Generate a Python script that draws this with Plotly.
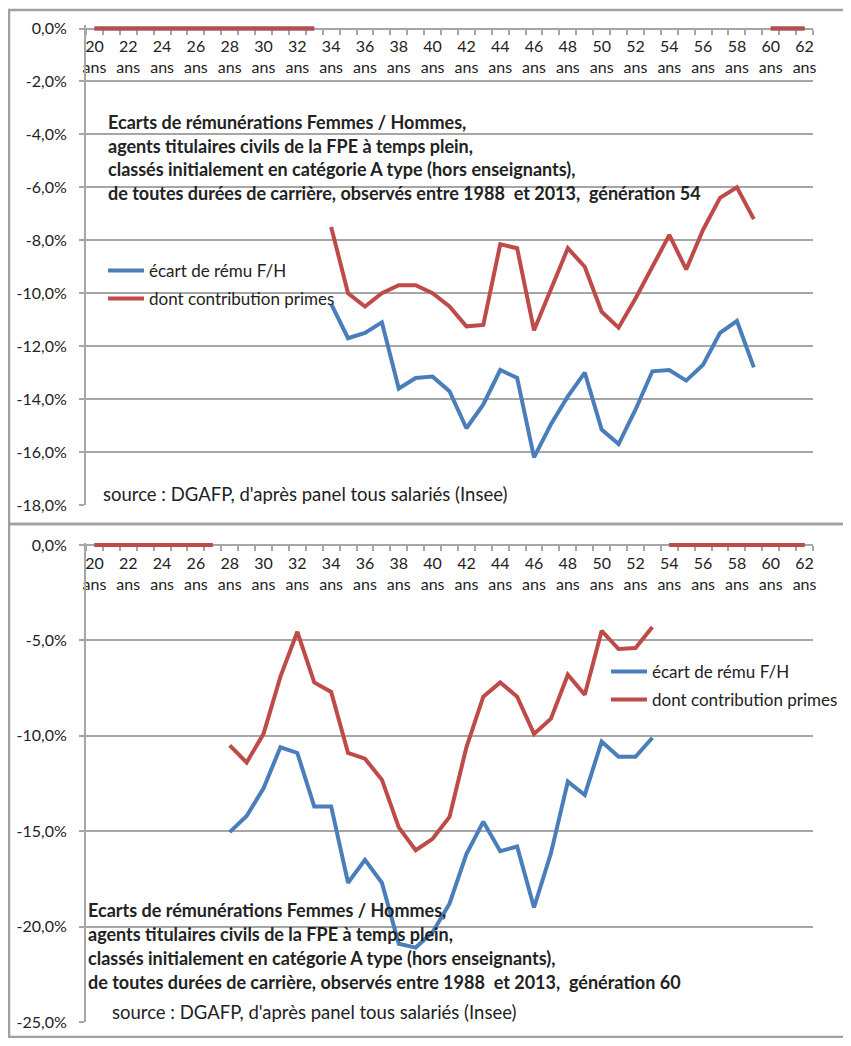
import plotly.graph_objects as go

# the page body keeps its default 8px margin, so the figure is sized to fit the window
OFF = 8
W, H = 851 - 2 * OFF, 1046 - 2 * OFF

BLUE = "#4a7ebb"
RED = "#be4b48"
GRID = "#a6a6a6"
TXT = "#222222"
FONT = "Lato"

# x categories
AGE_TICKS = list(range(20, 63, 2))
AGE_LABELS = [f"{a}<br>ans" for a in AGE_TICKS]

# génération 54
AGES_54 = list(range(34, 60))
ECART_54 = [-10.4, -11.7, -11.5, -11.1, -13.6, -13.2, -13.15, -13.7, -15.1, -14.2,
            -12.9, -13.2, -16.2, -14.95, -13.9, -13.0, -15.15, -15.7, -14.4, -12.95,
            -12.9, -13.3, -12.7, -11.5, -11.05, -12.8]
PRIMES_54 = [-7.5, -10.0, -10.5, -10.0, -9.7, -9.7, -10.0, -10.5, -11.25, -11.2,
             -8.15, -8.3, -11.4, -9.85, -8.3, -9.0, -10.7, -11.3, -10.2, -9.0,
             -7.8, -9.1, -7.6, -6.4, -6.0, -7.2]
ZERO_54_LEFT = list(range(20, 34))
ZERO_54_RIGHT = list(range(60, 63))
YTICKS_54 = [0, -2, -4, -6, -8, -10, -12, -14, -16, -18]
YLABELS_54 = ["0,0%", "-2,0%", "-4,0%", "-6,0%", "-8,0%", "-10,0%", "-12,0%",
              "-14,0%", "-16,0%", "-18,0%"]

# génération 60
AGES_60 = list(range(28, 54))
ECART_60 = [-15.05, -14.2, -12.75, -10.6, -10.9, -13.7, -13.7, -17.7, -16.5, -17.7,
            -20.9, -21.1, -20.3, -18.8, -16.2, -14.5, -16.05, -15.8, -19.0, -16.15,
            -12.4, -13.1, -10.3, -11.1, -11.1, -10.1]
PRIMES_60 = [-10.5, -11.4, -9.9, -6.9, -4.55, -7.2, -7.7, -10.9, -11.2, -12.3,
             -14.8, -16.0, -15.4, -14.25, -10.6, -7.95, -7.2, -7.95, -9.9, -9.1,
             -6.8, -7.85, -4.5, -5.45, -5.4, -4.3]
ZERO_60_LEFT = list(range(20, 28))
ZERO_60_RIGHT = list(range(54, 63))
YTICKS_60 = [0, -5, -10, -15, -20, -25]
YLABELS_60 = ["0,0%", "-5,0%", "-10,0%", "-15,0%", "-20,0%", "-25,0%"]

TITLE_LINES = [
    "Ecarts de rémunérations Femmes / Hommes,",
    "agents titulaires civils de la FPE à temps plein,",
    "classés initialement en catégorie A type (hors enseignants),",
    "de toutes durées de carrière, observés entre 1988  et 2013,  génération {}",
]
SOURCE = "source : DGAFP, d'après panel tous salariés (Insee)"


def px_x(v):
    return (v - OFF) / W


def px_y(v):
    return 1 - (v - OFF) / H


fig = go.Figure()

# zero stubs (blue under red)
for xa, ya, left, right in [("x", "y", ZERO_54_LEFT, ZERO_54_RIGHT),
                            ("x2", "y2", ZERO_60_LEFT, ZERO_60_RIGHT)]:
    for seg in (left, right):
        for col in (BLUE, RED):
            fig.add_trace(go.Scatter(x=seg, y=[0] * len(seg), mode="lines",
                                     line=dict(color=col, width=4),
                                     xaxis=xa, yaxis=ya, showlegend=False,
                                     hoverinfo="skip"))

series = [
    ("x", "y", AGES_54, ECART_54, BLUE, "écart de rému F/H", "legend"),
    ("x", "y", AGES_54, PRIMES_54, RED, "dont contribution primes", "legend2"),
    ("x2", "y2", AGES_60, ECART_60, BLUE, "écart de rému F/H", "legend3"),
    ("x2", "y2", AGES_60, PRIMES_60, RED, "dont contribution primes", "legend4"),
]
for xa, ya, xs, ys, col, name, lg in series:
    fig.add_trace(go.Scatter(x=xs, y=ys, mode="lines", name=name,
                             line=dict(color=col, width=4),
                             xaxis=xa, yaxis=ya, legend=lg))

# plot geometry (pixels in the window)
X0, X1 = 86, 813
TOP_ZERO, TOP_BOT = 28.5, 505
BOT_ZERO, BOT_BOT = 545, 1022
top_per = (TOP_BOT - TOP_ZERO) / 18
bot_per = (BOT_BOT - BOT_ZERO) / 25
EXT = 0.12

xcommon = dict(
    range=[19.5, 62.5], domain=[px_x(X0), px_x(X1)], anchor="free", side="top",
    tickmode="array", tickvals=AGE_TICKS, ticktext=AGE_LABELS, ticks="",
    ticklabelposition="inside", ticklabelstandoff=12, ticklabeloverflow="allow",
    tickfont=dict(family=FONT, size=16, color=TXT), automargin=False,
    showline=True, linecolor=GRID, linewidth=2, showgrid=False, zeroline=False,
    layer="below traces",
    minor=dict(ticks="inside", tick0=19.5, dtick=1, ticklen=5, tickcolor=GRID,
               tickwidth=1.5, showgrid=False),
)
ycommon = dict(
    tickmode="array", ticks="outside", ticklen=5, tickcolor=GRID, tickwidth=2,
    ticklabelstandoff=9, ticklabeloverflow="allow", automargin=False,
    tickfont=dict(family=FONT, size=16, color=TXT),
    showline=True, linecolor=GRID, linewidth=2,
    showgrid=True, gridcolor=GRID, gridwidth=2, zeroline=False,
)

fig.update_layout(
    width=W, height=H, margin=dict(l=0, r=0, t=0, b=0, autoexpand=False),
    plot_bgcolor="white", paper_bgcolor="white",
    xaxis=dict(xcommon, position=px_y(TOP_ZERO)),
    xaxis2=dict(xcommon, position=px_y(BOT_ZERO)),
    yaxis=dict(ycommon, range=[-18, EXT], tickvals=YTICKS_54, ticktext=YLABELS_54,
               domain=[px_y(TOP_BOT), px_y(TOP_ZERO - EXT * top_per)], anchor="x"),
    yaxis2=dict(ycommon, range=[-25, EXT], tickvals=YTICKS_60, ticktext=YLABELS_60,
                domain=[px_y(BOT_BOT), px_y(BOT_ZERO - EXT * bot_per)], anchor="x2"),
)

leg = dict(xanchor="left", yanchor="middle", bgcolor="rgba(0,0,0,0)",
           font=dict(family=FONT, size=17, color=TXT), itemwidth=36)
fig.update_layout(
    legend=dict(leg, x=px_x(103), y=px_y(271)),
    legend2=dict(leg, x=px_x(103), y=px_y(299)),
    legend3=dict(leg, x=px_x(606), y=px_y(672)),
    legend4=dict(leg, x=px_x(606), y=px_y(700)),
)

# titles and sources
for gen, x, ys in [(54, 106, [122, 145.5, 169, 192.5]), (60, 86, [910, 934, 958, 982])]:
    for line, y in zip(TITLE_LINES, ys):
        fig.add_annotation(text="<b>" + line.format(gen) + "</b>",
                           x=px_x(x), y=px_y(y), xref="paper", yref="paper",
                           xanchor="left", yanchor="middle", showarrow=False,
                           font=dict(family=FONT, size=18, color=TXT))
for x, y in [(101, 494), (110, 1012)]:
    fig.add_annotation(text=SOURCE, x=px_x(x), y=px_y(y), xref="paper", yref="paper",
                       xanchor="left", yanchor="middle", showarrow=False,
                       font=dict(family=FONT, size=18.5, color=TXT))

# chart frames
for y0, y1 in [(10, 524), (524, 1037)]:
    fig.add_shape(type="rect", xref="paper", yref="paper",
                  x0=px_x(9), x1=px_x(870), y0=px_y(y0), y1=px_y(y1),
                  line=dict(color="#a0a0a0", width=2.5))

fig.write_html("out.html")
